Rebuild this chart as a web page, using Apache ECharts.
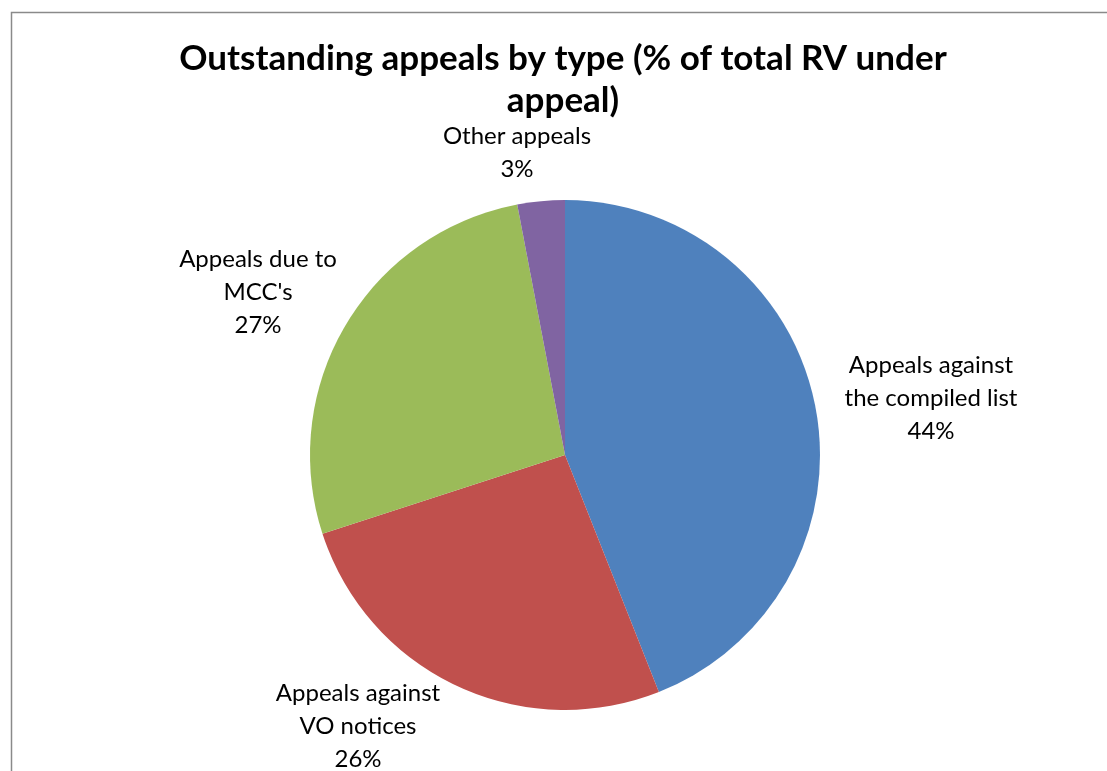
<!DOCTYPE html>
<html><head><meta charset="utf-8">
<script src="https://cdn.jsdelivr.net/npm/echarts@6/dist/echarts.min.js"></script>
<style>html,body{margin:0;padding:0;background:#fff}#c{width:1107px;height:771px}</style>
</head><body><div id="c"></div>
<script>
const categories = ["Appeals against\nthe compiled list", "Appeals against\nVO notices", "Appeals due to\nMCC's", "Other appeals"];
const values = [44, 26, 27, 3];
const colors = ["#4F81BD", "#C0504D", "#9BBB59", "#8064A2"];
const labelCenters = [[931, 398], [358, 726], [258, 292], [517, 153]];

const chart = echarts.init(document.getElementById('c'));
chart.setOption({
  backgroundColor: '#fff',
  animation: false,
  title: {
    text: "Outstanding appeals by type (% of total RV under\nappeal)",
    left: 558, top: 33, textAlign: 'center',
    textStyle: { fontFamily: 'Lato', fontWeight: 'bold', fontSize: 35, lineHeight: 42, color: '#000' }
  },
  graphic: [{
    type: 'rect', silent: true,
    shape: { x: 11.5, y: 12.5, width: 1200, height: 1000 },
    style: { fill: 'none', stroke: '#8a8a8a', lineWidth: 1.5 }
  }],
  series: [{
    type: 'pie',
    center: [565, 455],
    radius: 255,
    startAngle: 90,
    clockwise: true,
    data: categories.map((c, i) => ({ name: c, value: values[i], itemStyle: { color: colors[i] } })),
    label: {
      show: true,
      formatter: p => p.name + '\n' + p.value + '%',
      fontFamily: 'Lato', fontSize: 24, lineHeight: 33, color: '#000', align: 'center'
    },
    labelLine: { show: false },
    labelLayout: p => ({ x: labelCenters[p.dataIndex][0], y: labelCenters[p.dataIndex][1], align: 'center', verticalAlign: 'middle' })
  }]
});
</script></body></html>
